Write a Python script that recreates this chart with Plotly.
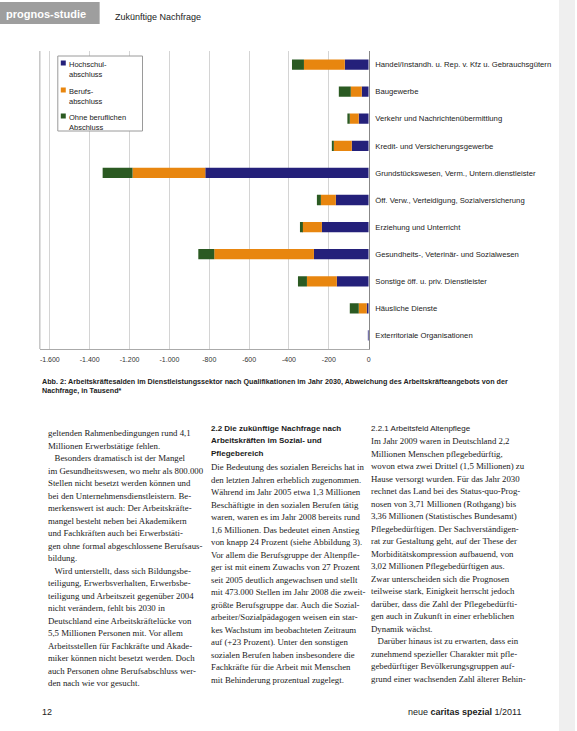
import plotly.graph_objects as go

W, H = 577, 731

categories = [
    "Handel/Instandh. u. Rep. v. Kfz u. Gebrauchsgütern",
    "Baugewerbe",
    "Verkehr und Nachrichtenübermittlung",
    "Kredit- und Versicherungsgewerbe",
    "Grundstückswesen, Verm., Untern.dienstleister",
    "Öff. Verw., Verteidigung, Sozialversicherung",
    "Erziehung und Unterricht",
    "Gesundheits-, Veterinär- und Sozialwesen",
    "Sonstige öff. u. priv. Dienstleister",
    "Häusliche Dienste",
    "Exterritoriale Organisationen",
]
hochschul = [-120, -35, -50, -85, -820, -165, -235, -275, -160, -10, -2]
beruf = [-205, -55, -45, -90, -365, -75, -100, -500, -150, -40, 0]
ohne = [-60, -60, -12, -10, -150, -20, -10, -80, -45, -45, 0]

series_names = ["Hochschul-<br>abschluss", "Berufs-<br>abschluss", "Ohne beruflichen<br>Abschluss"]

tick_vals = [-1600, -1400, -1200, -1000, -800, -600, -400, -200, 0]
tick_text = ["-1.600", "-1.400", "-1.200", "-1.000", "-800", "-600", "-400", "-200", "0"]

NAVY = "#24207a"
ORANGE = "#e8860f"
GREEN = "#2b5a22"
colors = [NAVY, ORANGE, GREEN]


def px(x):
    return x / W


def py(y):
    return 1 - y / H


fig = go.Figure()
for vals, name, col in zip([hochschul, beruf, ohne], series_names, colors):
    fig.add_trace(go.Bar(y=categories, x=vals, orientation="h", name=name,
                         marker=dict(color=col, line=dict(width=0)), showlegend=False))

sans = "Liberation Sans, Arial, sans-serif"
serif = "Liberation Serif, Times New Roman, serif"

fig.update_layout(
    width=W, height=H,
    margin=dict(l=0, r=0, t=0, b=0),
    paper_bgcolor="white", plot_bgcolor="white",
    barmode="relative", bargap=0.62,
    showlegend=False,
    xaxis=dict(domain=[px(40), px(370)], range=[-1650, 0],
               tickvals=tick_vals, ticktext=tick_text,
               tickfont=dict(family=sans, size=7, color="#333"),
               showgrid=True, gridcolor="#d4d4d4", gridwidth=1,
               zeroline=False, showline=True, linecolor="#aaaaaa", linewidth=1,
               ticks="", ticklabelstandoff=4),
    yaxis=dict(domain=[py(349), py(51)], side="right", autorange="reversed",
               tickfont=dict(family=sans, size=7.7, color="#222"),
               showline=True, linecolor="#888888", linewidth=1,
               showgrid=False, ticks="", ticklabelstandoff=4),
    font=dict(family=sans),
)

shapes = []
ann = []
# left frame line of the chart
shapes.append(dict(type="line", xref="paper", yref="paper", x0=px(40), x1=px(40),
                   y0=py(349), y1=py(51), line=dict(color="#aaaaaa", width=1)))
# header grey box
shapes.append(dict(type="rect", xref="paper", yref="paper", x0=0, x1=px(100),
                   y0=py(24), y1=py(2), fillcolor="#9e9e9e", line=dict(width=0)))
# right scan edge
shapes.append(dict(type="rect", xref="paper", yref="paper", x0=px(561), x1=1,
                   y0=0, y1=1, fillcolor="#efefef", line=dict(width=0), layer="below"))

# manual legend
shapes.append(dict(type="rect", xref="paper", yref="paper", x0=px(58), x1=px(143),
                   y0=py(131), y1=py(56), fillcolor="white",
                   line=dict(color="#9a9a9a", width=1)))
leg_y = [63, 90, 116]
for name, col, yy in zip(series_names, colors, leg_y):
    shapes.append(dict(type="rect", xref="paper", yref="paper", x0=px(61), x1=px(66),
                       y0=py(yy + 2.5), y1=py(yy - 2.5), fillcolor=col, line=dict(width=0)))
    ann.append(dict(text=name, x=px(67), y=py(yy - 5), xref="paper", yref="paper",
                    xanchor="left", yanchor="top", align="left", showarrow=False,
                    font=dict(family=sans, size=7.5, color="#222")))

fig.update_layout(shapes=shapes)

ann.append(dict(text="<b>prognos-studie</b>", x=px(4), y=py(14), xref="paper", yref="paper",
                xanchor="left", yanchor="middle", showarrow=False,
                font=dict(family=sans, size=11, color="white")))
ann.append(dict(text="Zukünftige Nachfrage", x=px(113), y=py(17), xref="paper", yref="paper",
                xanchor="left", yanchor="middle", showarrow=False,
                font=dict(family=sans, size=9, color="#222")))
ann.append(dict(text="<b>Abb. 2: Arbeitskräftesalden im Dienstleistungssektor nach Qualifikationen im Jahr 2030, Abweichung des Arbeitskräfteangebots von der<br>Nachfrage, in Tausend*</b>",
                x=px(40), y=py(375), xref="paper", yref="paper", xanchor="left", yanchor="top",
                align="left", showarrow=False, font=dict(family=sans, size=7.2, color="#222")))

col1 = [
    "geltenden Rahmenbedingungen rund 4,1",
    "Millionen Erwerbstätige fehlen.",
    "   Besonders dramatisch ist der Mangel",
    "im Gesundheitswesen, wo mehr als 800.000",
    "Stellen nicht besetzt werden können und",
    "bei den Unternehmensdienstleistern. Be-",
    "merkenswert ist auch: Der Arbeitskräfte-",
    "mangel besteht neben bei Akademikern",
    "und Fachkräften auch bei Erwerbstäti-",
    "gen ohne formal abgeschlossene Berufsaus-",
    "bildung.",
    "   Wird unterstellt, dass sich Bildungsbe-",
    "teiligung, Erwerbsverhalten, Erwerbsbe-",
    "teiligung und Arbeitszeit gegenüber 2004",
    "nicht verändern, fehlt bis 2030 in",
    "Deutschland eine Arbeitskräftelücke von",
    "5,5 Millionen Personen mit. Vor allem",
    "Arbeitsstellen für Fachkräfte und Akade-",
    "miker können nicht besetzt werden. Doch",
    "auch Personen ohne Berufsabschluss wer-",
    "den nach wie vor gesucht.",
]
col2_head = [
    "2.2 Die zukünftige Nachfrage nach",
    "Arbeitskräften im Sozial- und",
    "Pflegebereich",
]
col2 = [
    "Die Bedeutung des sozialen Bereichs hat in",
    "den letzten Jahren erheblich zugenommen.",
    "Während im Jahr 2005 etwa 1,3 Millionen",
    "Beschäftigte in den sozialen Berufen tätig",
    "waren, waren es im Jahr 2008 bereits rund",
    "1,6 Millionen. Das bedeutet einen Anstieg",
    "von knapp 24 Prozent (siehe Abbildung 3).",
    "Vor allem die Berufsgruppe der Altenpfle-",
    "ger ist mit einem Zuwachs von 27 Prozent",
    "seit 2005 deutlich angewachsen und stellt",
    "mit 473.000 Stellen im Jahr 2008 die zweit-",
    "größte Berufsgruppe dar. Auch die Sozial-",
    "arbeiter/Sozialpädagogen weisen ein star-",
    "kes Wachstum im beobachteten Zeitraum",
    "auf (+23 Prozent). Unter den sonstigen",
    "sozialen Berufen haben insbesondere die",
    "Fachkräfte für die Arbeit mit Menschen",
    "mit Behinderung prozentual zugelegt.",
]
col3_head = ["2.2.1 Arbeitsfeld Altenpflege"]
col3 = [
    "Im Jahr 2009 waren in Deutschland 2,2",
    "Millionen Menschen pflegebedürftig,",
    "wovon etwa zwei Drittel (1,5 Millionen) zu",
    "Hause versorgt wurden. Für das Jahr 2030",
    "rechnet das Land bei des Status-quo-Prog-",
    "nosen von 3,71 Millionen (Rothgang) bis",
    "3,36 Millionen (Statistisches Bundesamt)",
    "Pflegebedürftigen. Der Sachverständigen-",
    "rat zur Gestaltung geht, auf der These der",
    "Morbiditätskompression aufbauend, von",
    "3,02 Millionen Pflegebedürftigen aus.",
    "Zwar unterscheiden sich die Prognosen",
    "teilweise stark, Einigkeit herrscht jedoch",
    "darüber, dass die Zahl der Pflegebedürfti-",
    "gen auch in Zukunft in einer erheblichen",
    "Dynamik wächst.",
    "   Darüber hinaus ist zu erwarten, dass ein",
    "zunehmend spezieller Charakter mit pfle-",
    "gebedürftiger Bevölkerungsgruppen auf-",
    "grund einer wachsenden Zahl älterer Behin-",
]


def block(lines, x, y0, font, size, step=12.5, bold=False):
    for i, line in enumerate(lines):
        t = line.replace("   ", "\u00a0\u00a0\u00a0")
        if bold:
            t = "<b>" + t + "</b>"
        ann.append(dict(text=t, x=px(x), y=py(y0 + i * step), xref="paper", yref="paper",
                        xanchor="left", yanchor="middle", align="left", showarrow=False,
                        font=dict(family=font, size=size, color="#1a1a1a")))


block(col1, 46, 433, serif, 8.8)
block(col2_head, 210, 428, sans, 8, bold=True)
block(col2, 210, 467, serif, 8.8)
block(col3_head, 370, 428, sans, 8)
block(col3, 370, 441, serif, 8.8)

ann.append(dict(text="12", x=px(40), y=py(712), xref="paper", yref="paper",
                xanchor="left", yanchor="middle", showarrow=False,
                font=dict(family=sans, size=9, color="#222")))
ann.append(dict(text="neue <b>caritas spezial</b> 1/2011", x=px(525), y=py(712), xref="paper", yref="paper",
                xanchor="right", yanchor="middle", showarrow=False,
                font=dict(family=sans, size=9, color="#222")))

fig.update_layout(annotations=ann)
fig.write_html("out.html", config={"displayModeBar": False},
               post_script="document.body.style.margin='0';document.body.style.overflow='hidden';")
